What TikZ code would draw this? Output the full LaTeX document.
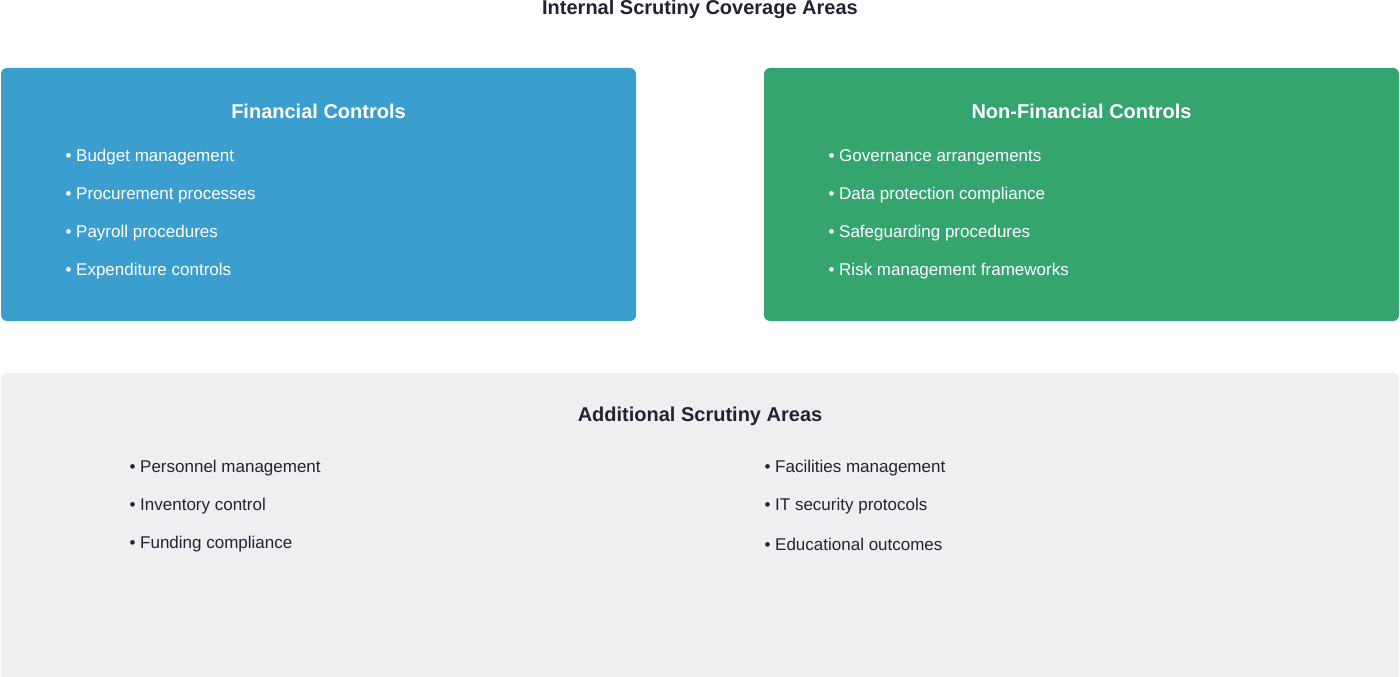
\documentclass[tikz,border=0pt]{standalone}
\usepackage{fontspec}
\setmainfont{Liberation Sans}
\definecolor{finblue}{HTML}{3A9FCF}
\definecolor{nongreen}{HTML}{34A56F}
\definecolor{addgray}{HTML}{EFEFF2}
\definecolor{inkdark}{HTML}{222233}
\begin{document}
\begin{tikzpicture}[x=1pt,y=-1pt,
    panel/.style={rounded corners=6pt},
    head/.style={font=\fontsize{20}{24}\selectfont\bfseries},
    item/.style={anchor=west,font=\fontsize{17}{20}\selectfont}]
\useasboundingbox (0,0) rectangle (1400,677);
\node[head,text=inkdark] (title) at (700,9) {Internal Scrutiny Coverage Areas};
% panels
\fill[panel,finblue] (1,68) rectangle (636,321);
\fill[panel,nongreen] (764,68) rectangle (1399,321);
\fill[panel,addgray] (1,373) rectangle (1399,690);
\node[head,text=white] (fin) at (318.5,111) {Financial Controls};
\node[head,text=white] (non) at (1081.5,111) {Non-Financial Controls};
\node[head,text=inkdark] (add) at (700,416) {Additional Scrutiny Areas};
% items
\foreach \t [count=\i from 0] in {Budget management,Procurement processes,Payroll procedures,Expenditure controls}
  \node[item,text=white] (fin\i) at (62,157+38*\i) {• \t};
\foreach \t [count=\i from 0] in {Governance arrangements,Data protection compliance,Safeguarding procedures,Risk management frameworks}
  \node[item,text=white] (non\i) at (825,157+38*\i) {• \t};
\foreach \t [count=\i from 0] in {Personnel management,Inventory control,Funding compliance}
  \node[item,text=inkdark] (addl\i) at (126,468+38*\i) {• \t};
\foreach \t [count=\i from 0] in {Facilities management,IT security protocols,Educational outcomes}
  \node[item,text=inkdark] (addr\i) at (761,468+38*\i) {• \t};
\end{tikzpicture}
\end{document}
